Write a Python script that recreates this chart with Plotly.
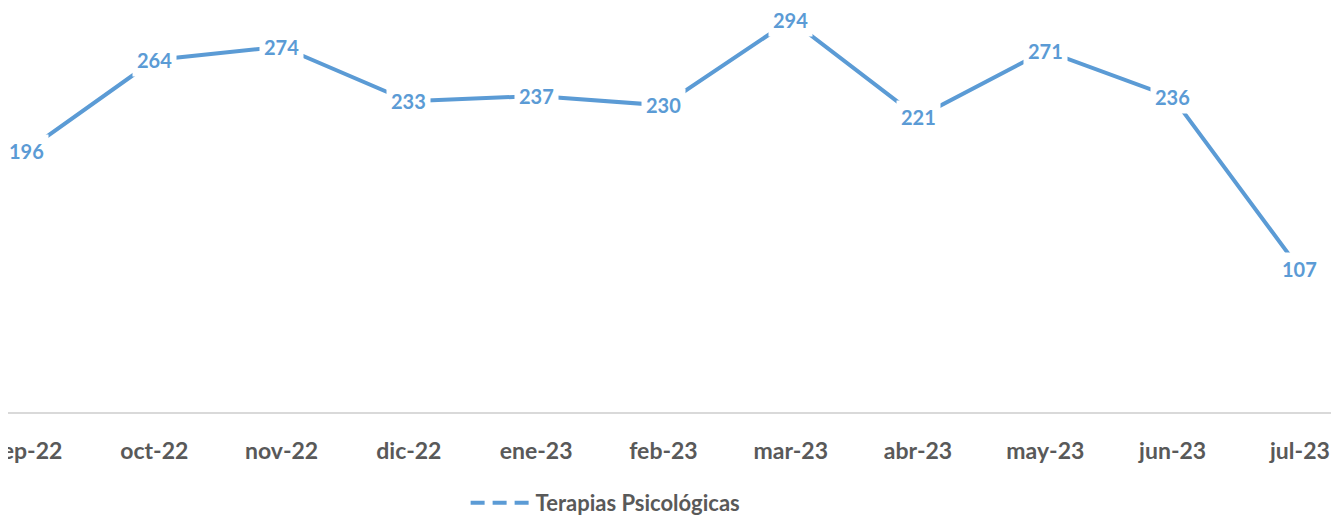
import plotly.graph_objects as go

months = ["sep-22", "oct-22", "nov-22", "dic-22", "ene-23", "feb-23",
          "mar-23", "abr-23", "may-23", "jun-23", "jul-23"]
values = [196, 264, 274, 233, 237, 230, 294, 221, 271, 236, 107]
series_name = "Terapias Psicológicas"

color = "#5B9BD5"
fig = go.Figure()
fig.add_trace(go.Scatter(
    x=months, y=values, mode="lines", name=series_name,
    line=dict(color=color, width=4), showlegend=False,
))
# legend entry styled like the reference (dashed sample)
fig.add_trace(go.Scatter(
    x=[None], y=[None], mode="lines", name=series_name,
    line=dict(color=color, width=4, dash="14px,8px"), showlegend=True,
))

for m, v in zip(months, values):
    fig.add_annotation(
        x=m, y=v, text=f"<b>{v}</b>", showarrow=False,
        font=dict(family="Lato", size=20, color=color),
        bgcolor="white", borderpad=4,
    )

# page has an 8px body margin, so the figure is sized to fit the window
fig.update_layout(
    width=1331, height=508,
    margin=dict(l=0, r=0, t=0, b=104, autoexpand=False),
    paper_bgcolor="white", plot_bgcolor="white",
    xaxis=dict(
        type="category", range=[-0.149, 10.307], automargin=False,
        showgrid=False, showline=True, linecolor="#D9D9D9", linewidth=2,
        ticks="", tickfont=dict(family="Lato", size=23, color="#595959", weight="bold"),
        ticklabelstandoff=17,
    ),
    yaxis=dict(range=[0, 303], visible=False, showgrid=False, zeroline=False,
               automargin=False),
    legend=dict(
        orientation="h", x=0.449, xanchor="center", y=-0.225, yanchor="middle",
        font=dict(family="Lato", size=22, color="#595959", weight="bold"),
        itemwidth=60,
    ),
)

fig.write_html("out.html")
